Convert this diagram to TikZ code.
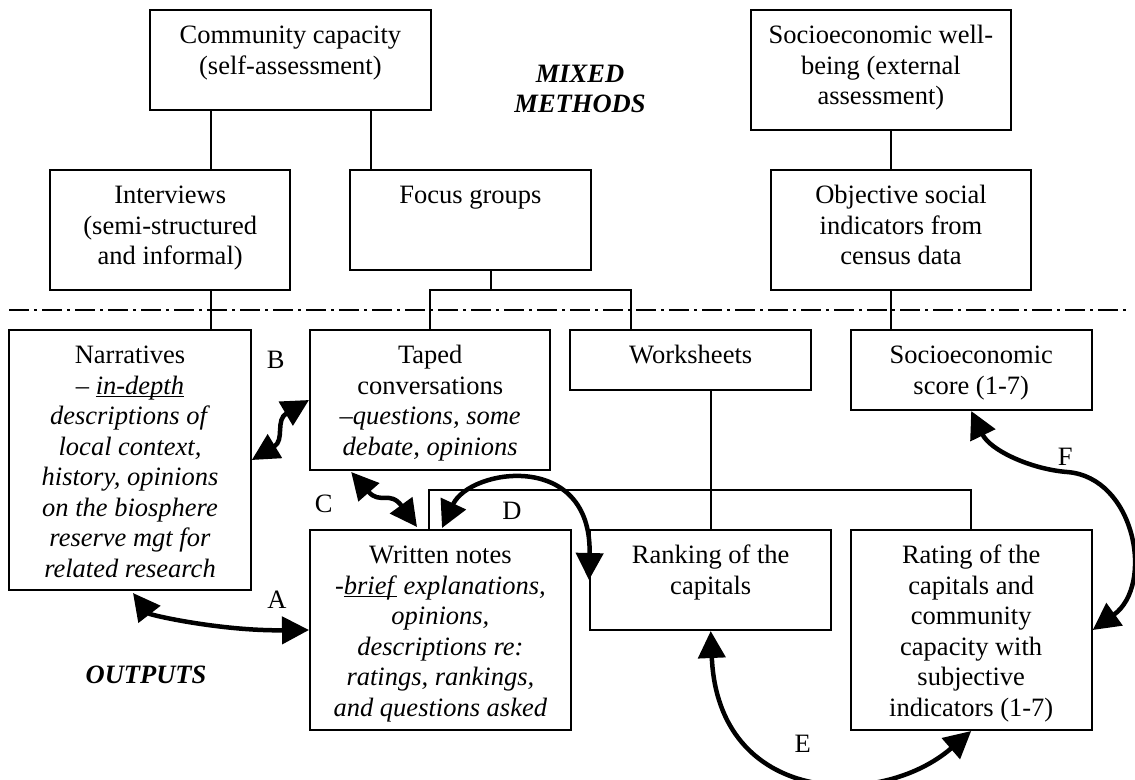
\documentclass[tikz,border=0pt]{standalone}
\usepackage{fontspec}
\setmainfont{Liberation Serif}
\usetikzlibrary{arrows.meta}
\newsavebox{\ulsave}
% word-processor style underline, drawn just below the baseline
\newcommand\wordul[1]{\sbox\ulsave{#1}\rlap{\rule[-3pt]{\wd\ulsave}{1.4pt}}\usebox\ulsave}

\begin{document}
\begin{tikzpicture}[x=1pt,y=-1pt,
  every node/.style={font=\fontsize{26.5}{30.5}\selectfont, inner sep=0pt},
  box/.style={draw, line width=2pt, rectangle},
  txt/.style={anchor=north, align=center},
  link/.style={line width=2pt},
  sep/.style={line width=2pt, dash pattern=on 20pt off 5pt on 3pt off 5pt},
  biarrow/.style={line width=4.5pt,
    {Triangle[length=27pt,width=27pt]}-{Triangle[length=27pt,width=27pt]}},
  tag/.style={anchor=base},
  heading/.style={font=\fontsize{26.5}{30.5}\selectfont\bfseries\itshape}]

\fill[white] (0,0) rectangle (1135,779);
\useasboundingbox (0,0) rectangle (1135,779);

% ---- methods (upper tier) ----
\node[box, minimum width=281pt,   minimum height=100pt] (cc) at (290.4,60)  {};
\node[box, minimum width=260.3pt, minimum height=120pt] (sw) at (880.9,70)  {};
\node[box, minimum width=240.5pt, minimum height=120pt] (iv) at (170.2,230) {};
\node[box, minimum width=240.5pt, minimum height=100pt] (fg) at (470.5,220) {};
\node[box, minimum width=260.3pt, minimum height=120pt] (ob) at (901,230)   {};

% ---- outputs (lower tier) ----
\node[box, minimum width=241.6pt, minimum height=260pt] (nr) at (130,460)   {};
\node[box, minimum width=240.4pt, minimum height=140pt] (tc) at (430.2,400) {};
\node[box, minimum width=241pt,   minimum height=60pt]  (ws) at (690.7,360) {};
\node[box, minimum width=241pt,   minimum height=80pt]  (ss) at (971.2,370) {};
\node[box, minimum width=260.8pt, minimum height=200pt] (wn) at (440.4,630) {};
\node[box, minimum width=241.4pt, minimum height=100pt] (rk) at (710.7,580) {};
\node[box, minimum width=241pt,   minimum height=200pt] (rt) at (971.2,630) {};

% ---- box texts ----
\node[txt] (cc-t) at ([yshift=-13pt]cc.north) {\strut Community capacity\\(self-assessment)};
\node[txt] (sw-t) at ([yshift=-13pt]sw.north) {\strut Socioeconomic well-\\being (external\\assessment)};
\node[txt] (iv-t) at ([yshift=-13pt]iv.north) {\strut Interviews\\(semi-structured\\and informal)};
\node[txt] (fg-t) at ([yshift=-13pt]fg.north) {\strut Focus groups};
\node[txt] (ob-t) at ([yshift=-13pt]ob.north) {\strut Objective social\\indicators from\\census data};
\node[txt] (nr-t) at ([yshift=-13pt]nr.north) {\strut Narratives\\– \wordul{\textit{in-depth}}\\\textit{descriptions of}\\\textit{local context,}\\\textit{history, opinions}\\\textit{on the biosphere}\\\textit{reserve mgt for}\\\textit{related research}};
\node[txt] (tc-t) at ([yshift=-13pt]tc.north) {\strut Taped\\conversations\\\textit{–questions, some}\\\textit{debate, opinions}};
\node[txt] (ws-t) at ([yshift=-13pt]ws.north) {\strut Worksheets};
\node[txt] (ss-t) at ([yshift=-13pt]ss.north) {\strut Socioeconomic\\score (1-7)};
\node[txt] (wn-t) at ([yshift=-13pt]wn.north) {\strut Written notes\\\textit{-}\wordul{\textit{brief}} \textit{explanations,}\\\textit{opinions,}\\\textit{descriptions re:}\\\textit{ratings, rankings,}\\\textit{and questions asked}};
\node[txt] (rk-t) at ([yshift=-13pt]rk.north) {\strut Ranking of the\\capitals};
\node[txt] (rt-t) at ([yshift=-13pt]rt.north) {\strut Rating of the\\capitals and\\community\\capacity with\\subjective\\indicators (1-7)};

% ---- headings ----
\node[txt, heading] (mixed) at (580,60.6) {\strut MIXED\\METHODS};
\node[tag, heading] (outputs) at (146,683) {OUTPUTS};

% ---- separator between methods and outputs ----
\coordinate (sepL) at (9,310);
\coordinate (sepR) at (1128,310);
\draw[sep] (sepL) -- (sepR);

% ---- tree connectors ----
\coordinate (ccL) at ([xshift=-79.9pt]cc.south);
\coordinate (ccR) at ([xshift=80.2pt]cc.south);
\draw[link] (ccL) -- (ccL |- iv.north);
\draw[link] (ccR) -- (ccR |- fg.north);
\coordinate (swD) at ([xshift=10.1pt]sw.south);
\draw[link] (swD) -- (swD |- ob.north);
\draw[link] (ccL |- iv.south) -- (ccL |- nr.north);
\coordinate (fgD) at ([xshift=20.4pt]fg.south);
\coordinate (fgJ) at ([yshift=-19pt]fgD);
\coordinate (wsU) at ([xshift=-59.9pt]ws.north);
\draw[link] (fgD) -- (fgJ);
\draw[link] (tc.north) -- (tc.north |- fgJ) -- (wsU |- fgJ) -- (wsU);
\coordinate (obD) at ([xshift=-10pt]ob.south);
\draw[link] (obD) -- (obD |- ss.north);
\draw[link] (rk.north) -- (rk.north |- ws.south);
\coordinate (wnU) at ([xshift=120pt]wn.north west);
\coordinate (capY) at (0,490);
\draw[link] (wnU) -- (wnU |- capY) -- (rt.north |- capY) -- (rt.north);

% ---- two-way links between outputs ----
\draw[biarrow] ([xshift=3pt,yshift=-2pt]nr.south) .. controls (150,615) and (220,631) .. (wn.west);
\draw[biarrow] (nr.east) .. controls (285,440) and (275,420) .. (tc.west);
\draw[biarrow] ([xshift=-79pt,yshift=-1pt]tc.south) .. controls (380,505) and (390,490) .. ([xshift=108pt,yshift=2pt]wn.north west);
\draw[biarrow] ([xshift=133pt,yshift=1pt]wn.north west) .. controls (470,468) and (592,450) .. (rk.west);
\draw[biarrow] (rk.south) .. controls (718,805) and (880,810) .. (rt.south);
\coordinate (fBend) at (1067,472);
\draw[biarrow] (ss.south) .. controls (990,450) and (1030,469) .. (fBend) .. controls (1135,477) and (1155,585) .. (rt.east);

% ---- link letters ----
\node[tag] (lblA) at (277,608)   {A};
\node[tag] (lblB) at (275.6,368) {B};
\node[tag] (lblC) at (323.6,512) {C};
\node[tag] (lblD) at (512,519)   {D};
\node[tag] (lblE) at (802.8,752) {E};
\node[tag] (lblF) at (1065.3,465) {F};

\end{tikzpicture}
\end{document}
